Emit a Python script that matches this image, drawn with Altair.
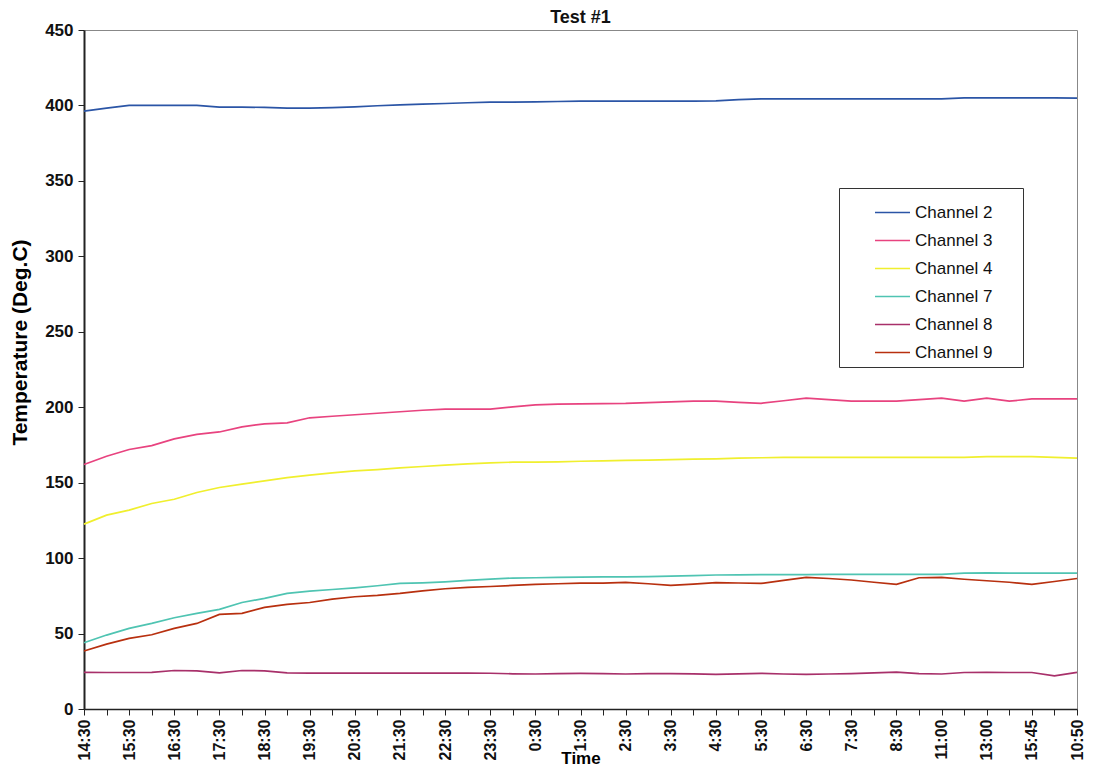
import altair as alt
import pandas as pd

tick_labels = ["14:30", "15:30", "16:30", "17:30", "18:30", "19:30", "20:30", "21:30",
               "22:30", "23:30", "0:30", "1:30", "2:30", "3:30", "4:30", "5:30", "6:30",
               "7:30", "8:30", "11:00", "13:00", "15:45", "10:50"]

channels = ["Channel 2", "Channel 3", "Channel 4", "Channel 7", "Channel 8", "Channel 9"]
colors = ["#2b55a6", "#e8437f", "#f0ef2e", "#4fc4b2", "#a8306a", "#b8300f"]

ch2 = [396.2, 398.2, 400, 400, 400, 400, 398.9, 398.9, 398.7, 398.2,
       398.2, 398.5, 399.1, 399.8, 400.4, 400.9, 401.3, 401.8, 402.2, 402.2,
       402.4, 402.6, 402.9, 402.8, 402.8, 402.9, 402.9, 402.9, 403, 403.8,
       404.4, 404.4, 404.4, 404.4, 404.4, 404.4, 404.4, 404.4, 404.4, 405,
       405, 405, 405, 405, 404.8]
ch3 = [162, 167.5, 172, 174.6, 179, 182, 183.6, 187, 189, 189.6,
       193, 194, 195, 196, 197, 198, 198.7, 198.7, 198.7, 200.2,
       201.5, 202, 202.2, 202.4, 202.5, 203, 203.5, 204, 204, 203.2,
       202.6, 204.3, 206, 205, 204, 204, 204, 205, 206, 204,
       206, 204, 205.5, 205.5, 205.5]
ch4 = [122.5, 128.5, 131.8, 136.2, 139, 143.5, 146.8, 149, 151.2, 153.4,
       155, 156.5, 157.8, 158.7, 159.8, 160.7, 161.6, 162.5, 163.1, 163.6,
       163.6, 163.8, 164.2, 164.5, 164.8, 165, 165.3, 165.6, 165.8, 166.2,
       166.5, 166.7, 166.7, 166.7, 166.7, 166.7, 166.7, 166.7, 166.7, 166.8,
       167.3, 167.3, 167.3, 166.8, 166.2]
ch7 = [43.9, 49, 53.4, 56.7, 60.5, 63.4, 66, 70.6, 73.3, 76.6,
       78.1, 79.2, 80.3, 81.7, 83.2, 83.6, 84.3, 85.2, 86.1, 86.8,
       87, 87.2, 87.4, 87.5, 87.6, 87.7, 88, 88.4, 88.8, 88.9,
       89, 89, 89.1, 89.2, 89.2, 89.2, 89.2, 89.2, 89.2, 90,
       90.2, 90, 90, 90, 90]
ch8 = [24.3, 24.2, 24.2, 24.3, 25.5, 25.3, 24, 25.5, 25.3, 24,
       23.8, 23.8, 23.8, 23.8, 23.8, 23.8, 23.8, 23.8, 23.7, 23.3,
       23.2, 23.4, 23.6, 23.5, 23.2, 23.4, 23.5, 23.3, 23, 23.3,
       23.6, 23.2, 22.9, 23.2, 23.5, 24, 24.5, 23.5, 23.2, 24.2,
       24.3, 24.2, 24.2, 22, 24.3]
ch9 = [38.4, 43, 46.8, 49.2, 53.4, 56.7, 62.7, 63.4, 67.3, 69.3,
       70.6, 72.8, 74.4, 75.3, 76.6, 78.3, 79.7, 80.6, 81.2, 81.9,
       82.6, 83, 83.4, 83.4, 83.9, 83, 81.9, 82.8, 83.7, 83.5,
       83.2, 85.2, 87.2, 86.5, 85.5, 84, 82.6, 87, 87.2, 86,
       85, 84, 82.6, 84.5, 86.5]

series = [ch2, ch3, ch4, ch7, ch8, ch9]
rows = []
for name, vals in zip(channels, series):
    for i, v in enumerate(vals):
        rows.append({"idx": i, "channel": name, "temp": v})
df = pd.DataFrame(rows)

arr = "[" + ",".join("'" + t + "'" for t in tick_labels) + "]"
label_expr = f"datum.value % 2 == 0 ? {arr}[datum.value / 2] : ''"
BLANK = "\u2800"
legend_label_expr = "datum.label + '" + BLANK * 2 + "'"

FONT = "Liberation Sans"

chart = alt.Chart(df).mark_line(strokeWidth=1.7, interpolate="linear").encode(
    x=alt.X("idx:O",
            scale=alt.Scale(type="point", padding=0),
            axis=alt.Axis(title="Time", labelExpr=label_expr, labelAngle=270,
                          labelFont=FONT, labelFontSize=16, labelFontWeight="bold",
                          labelColor="#111", titleFont=FONT, titleFontSize=17,
                          titleFontWeight="bold", titlePadding=-9, tickSize=6,
                          labelPadding=4, domainColor="#222", tickColor="#222",
                          domainWidth=1.5, labelOverlap=False)),
    y=alt.Y("temp:Q",
            scale=alt.Scale(domain=[0, 450], nice=False),
            axis=alt.Axis(title="Temperature (Deg.C)", values=list(range(0, 451, 50)),
                          labelFont=FONT, labelFontSize=17, labelFontWeight="bold",
                          labelColor="#111", titleFont=FONT, titleFontSize=21,
                          titleFontWeight="bold", titlePadding=14, titleY=312,
                          tickSize=6, labelPadding=5, domainColor="#222",
                          tickColor="#222", domainWidth=2, grid=False)),
    color=alt.Color("channel:N",
                    scale=alt.Scale(domain=channels, range=colors),
                    legend=alt.Legend(title=None, orient="none", legendX=755, legendY=158,
                                      symbolType="stroke", symbolSize=1225,
                                      symbolStrokeWidth=1.6, labelFont=FONT,
                                      labelFontSize=17, labelColor="#111",
                                      labelExpr=legend_label_expr,
                                      strokeColor="#333", padding=6, rowPadding=1,
                                      symbolOffset=29, labelOffset=4)),
    order=alt.Order("idx:O"),
).properties(
    width=993,
    height=679,
    title=alt.TitleParams("Test #1", font=FONT, fontSize=18, fontWeight="bold",
                          color="#111", offset=0, dy=6),
    autosize=alt.AutoSizeParams(type="none"),
    padding={"left": 76, "top": 22, "right": 8, "bottom": 60},
).configure_view(
    stroke="#888", strokeWidth=1
)

chart.save("out.html", embed_options={"renderer": "svg", "actions": False})
